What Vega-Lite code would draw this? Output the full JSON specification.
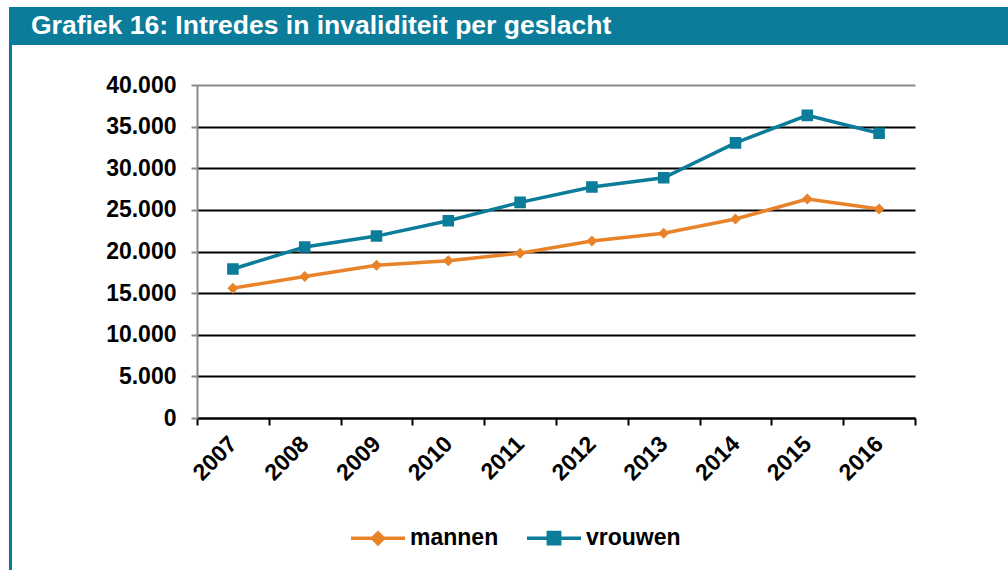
{
  "$schema": "https://vega.github.io/schema/vega-lite/v6.json",
  "background": "white",
  "padding": {"left": 9, "top": 7, "right": 0, "bottom": 0},
  "config": {"font": "Liberation Sans", "concat": {"spacing": 0}},
  "spacing": 0,
  "hconcat": [
    {
      "width": 3,
      "height": 563,
      "view": {"fill": "#0b7c9a", "stroke": null},
      "data": {"values": []},
      "mark": "text",
      "encoding": {}
    },
    {
      "spacing": 29,
      "vconcat": [
        {
          "width": 811,
          "height": 38,
          "view": {"stroke": null},
          "data": {"values": [{"t": "Grafiek 16: Intredes in invaliditeit per geslacht", "begin": -0.2281, "eind": 1}]},
          "encoding": {
            "x": {"field": "begin", "type": "quantitative", "scale": {"domain": [0, 1], "nice": false, "zero": false}, "axis": null}
          },
          "layer": [
            {
              "mark": {"type": "rect", "color": "#0b7c9a"},
              "encoding": {"x2": {"field": "eind"}}
            },
            {
              "mark": {"type": "text", "align": "left", "baseline": "middle", "dx": 19, "color": "white", "fontSize": 26.5, "fontWeight": "bold", "font": "Liberation Sans"},
              "encoding": {"text": {"field": "t"}}
            }
          ]
        },
        {
          "width": 718,
          "height": 333,
          "view": {"stroke": null},
          "data": {"values": [
            {"jaar": "2007", "geslacht": "mannen", "waarde": 15600},
            {"jaar": "2008", "geslacht": "mannen", "waarde": 17000},
            {"jaar": "2009", "geslacht": "mannen", "waarde": 18350},
            {"jaar": "2010", "geslacht": "mannen", "waarde": 18900},
            {"jaar": "2011", "geslacht": "mannen", "waarde": 19800},
            {"jaar": "2012", "geslacht": "mannen", "waarde": 21250},
            {"jaar": "2013", "geslacht": "mannen", "waarde": 22200},
            {"jaar": "2014", "geslacht": "mannen", "waarde": 23900},
            {"jaar": "2015", "geslacht": "mannen", "waarde": 26300},
            {"jaar": "2016", "geslacht": "mannen", "waarde": 25100},
            {"jaar": "2007", "geslacht": "vrouwen", "waarde": 17900},
            {"jaar": "2008", "geslacht": "vrouwen", "waarde": 20550},
            {"jaar": "2009", "geslacht": "vrouwen", "waarde": 21850},
            {"jaar": "2010", "geslacht": "vrouwen", "waarde": 23700},
            {"jaar": "2011", "geslacht": "vrouwen", "waarde": 25900},
            {"jaar": "2012", "geslacht": "vrouwen", "waarde": 27750},
            {"jaar": "2013", "geslacht": "vrouwen", "waarde": 28850},
            {"jaar": "2014", "geslacht": "vrouwen", "waarde": 33050},
            {"jaar": "2015", "geslacht": "vrouwen", "waarde": 36350},
            {"jaar": "2016", "geslacht": "vrouwen", "waarde": 34200}
          ]},
          "encoding": {
            "x": {
              "field": "jaar", "type": "ordinal",
              "scale": {"type": "band", "paddingInner": 0, "paddingOuter": 0},
              "axis": {
                "title": null, "tickBand": "extent", "domainColor": "black", "domainWidth": 2,
                "tickColor": "black", "tickWidth": 2, "tickSize": 7, "labelAngle": -45,
                "labelAlign": "right", "labelBaseline": "middle", "labelPadding": 15,
                "labelFont": "Liberation Sans", "labelFontSize": 23, "labelFontWeight": "bold", "labelColor": "black", "grid": false
              }
            },
            "y": {
              "field": "waarde", "type": "quantitative",
              "scale": {"domain": [0, 40000], "nice": false},
              "axis": {
                "title": null, "values": [0, 5000, 10000, 15000, 20000, 25000, 30000, 35000, 40000],
                "labelExpr": "replace(format(datum.value, ','), ',', '.')",
                "domainColor": "#8a8a8a", "domainWidth": 2, "tickColor": "#8a8a8a", "tickWidth": 2, "tickSize": 6,
                "labelPadding": 15, "labelFont": "Liberation Sans", "labelFontSize": 23, "labelFontWeight": "bold", "labelColor": "black",
                "grid": true, "gridColor": {"condition": {"test": "datum.value === 40000", "value": "#8a8a8a"}, "value": "black"}, "gridWidth": 2,
                "minExtent": 185, "maxExtent": 185
              }
            },
            "color": {
              "field": "geslacht", "type": "nominal",
              "scale": {"domain": ["mannen", "vrouwen"], "range": ["#e8832a", "#0b7c9a"]},
              "legend": {
                "title": null, "orient": "none", "direction": "horizontal", "legendX": 340, "legendY": 502,
                "labelFont": "Liberation Sans", "labelFontSize": 23, "labelFontWeight": "bold", "labelColor": "black",
                "labelOffset": 3, "columnPadding": 21, "symbolSize": 2916, "symbolStrokeWidth": 3.5, "symbolOpacity": 1
              }
            }
          },
          "layer": [
            {"mark": {"type": "line", "strokeWidth": 3.5}},
            {
              "mark": {"type": "point", "filled": true, "opacity": 1, "size": 3025, "strokeWidth": 0},
              "encoding": {
                "stroke": {"field": "geslacht", "type": "nominal", "scale": {"domain": ["mannen", "vrouwen"], "range": ["#e8832a", "#0b7c9a"]}},
                "shape": {"field": "geslacht", "type": "nominal", "scale": {"domain": ["mannen", "vrouwen"], "range": ["M-1,0H1M0,-0.2L0.2,0L0,0.2L-0.2,0Z", "M-1,0H1M-0.21,-0.21H0.21V0.21H-0.21Z"]}}
              }
            }
          ]
        }
      ]
    }
  ]
}
